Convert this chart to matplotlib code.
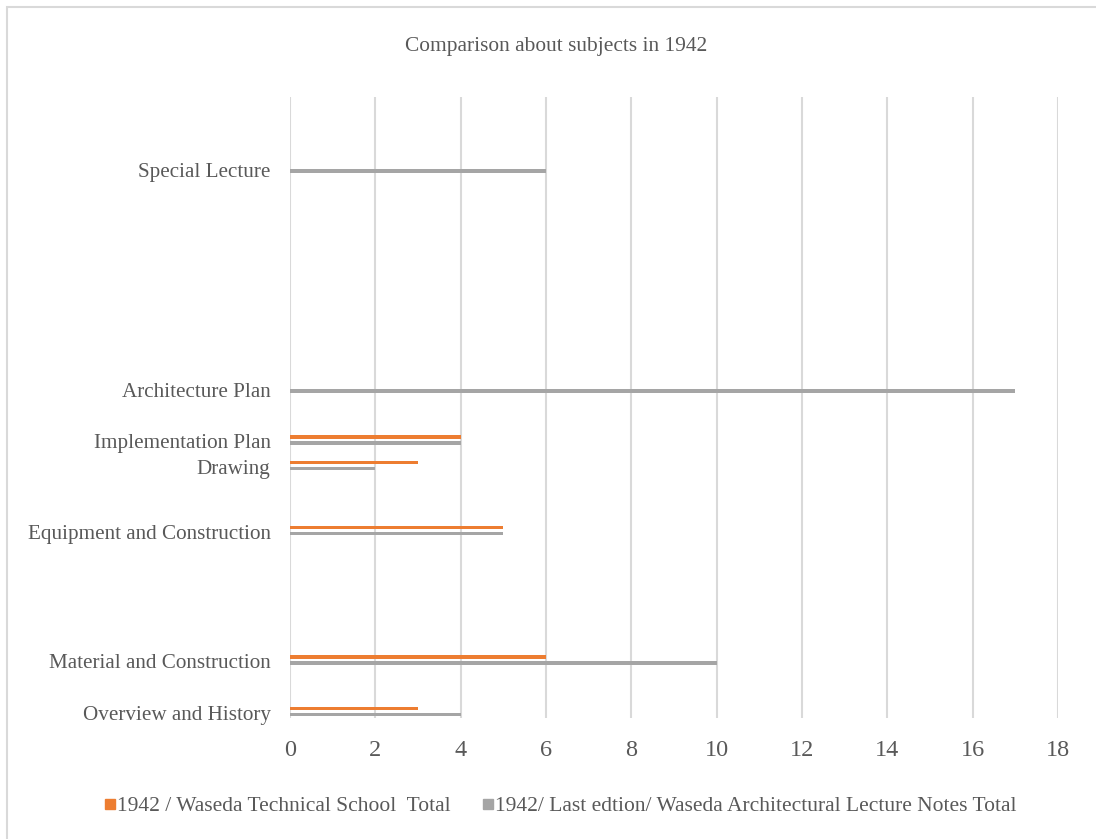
import matplotlib.pyplot as plt
from matplotlib.patches import Rectangle
from matplotlib.lines import Line2D

# subjects and their slots on the category axis (48 slots, most empty)
subjects = ["Overview and History", "Material and Construction",
            "Equipment and Construction", "Drawing", "Implementation Plan",
            "Architecture Plan", "Special Lecture"]
slots = [0, 4, 14, 19, 21, 25, 42]
n_slots = 48

technical_school = [3, 6, 5, 3, 4, 0, 0]
lecture_notes = [4, 10, 5, 2, 4, 17, 6]

series_names = ["1942 / Waseda Technical School  Total",
                "1942/ Last edtion/ Waseda Architectural Lecture Notes Total"]
colors = ["#ed7d31", "#a5a5a5"]
text_color = "#595959"

plt.rcParams['font.family'] = ['Liberation Serif', 'DejaVu Serif']

fig = plt.figure(figsize=(10.96, 8.39), dpi=100)
ax = fig.add_axes([290 / 1096, 1 - 718 / 839, 768 / 1096, 621 / 839])

centers = [s + 0.5 for s in slots]
h = 0.27
off = 0.23
ax.barh([c + off for c in centers], technical_school, height=h, color=colors[0], zorder=3)
ax.barh([c - off for c in centers], lecture_notes, height=h, color=colors[1], zorder=3)

ax.set_xlim(0, 18)
ax.set_ylim(0, n_slots)
ax.set_xticks(range(0, 19, 2))
ax.set_yticks([c - 0.12 for c in centers])
ax.set_yticklabels(subjects)
ax.tick_params(axis='x', length=0, labelsize=17.5, colors=text_color, pad=16)
ax.tick_params(axis='y', length=0, labelsize=15.2, colors=text_color, pad=14)
ax.grid(axis='x', color='#d9d9d9', linewidth=1.5, zorder=0)
for s in ax.spines.values():
    s.set_visible(False)

fig.text(556 / 1096, 1 - 46 / 839, "Comparison about subjects in 1942",
         ha='center', va='center', fontsize=15.4, color=text_color)

handles = [Line2D([], [], marker='s', linestyle='none', markersize=6.5,
                  color=c) for c in colors]
fig.legend(handles, series_names, loc='center', bbox_to_anchor=(561 / 1096, 1 - 806 / 839),
           ncol=2, frameon=False, fontsize=15.5, labelcolor=text_color,
           handletextpad=0.1, columnspacing=1.5, handlelength=0.45)

# light frame around the chart area
fig.patches.append(Rectangle((7 / 1096, -0.1), 1.2, 1 - 7 / 839 + 0.1,
                             transform=fig.transFigure, fill=False,
                             edgecolor='#d9d9d9', linewidth=1.5))

fig.savefig("out.png", dpi=100)
